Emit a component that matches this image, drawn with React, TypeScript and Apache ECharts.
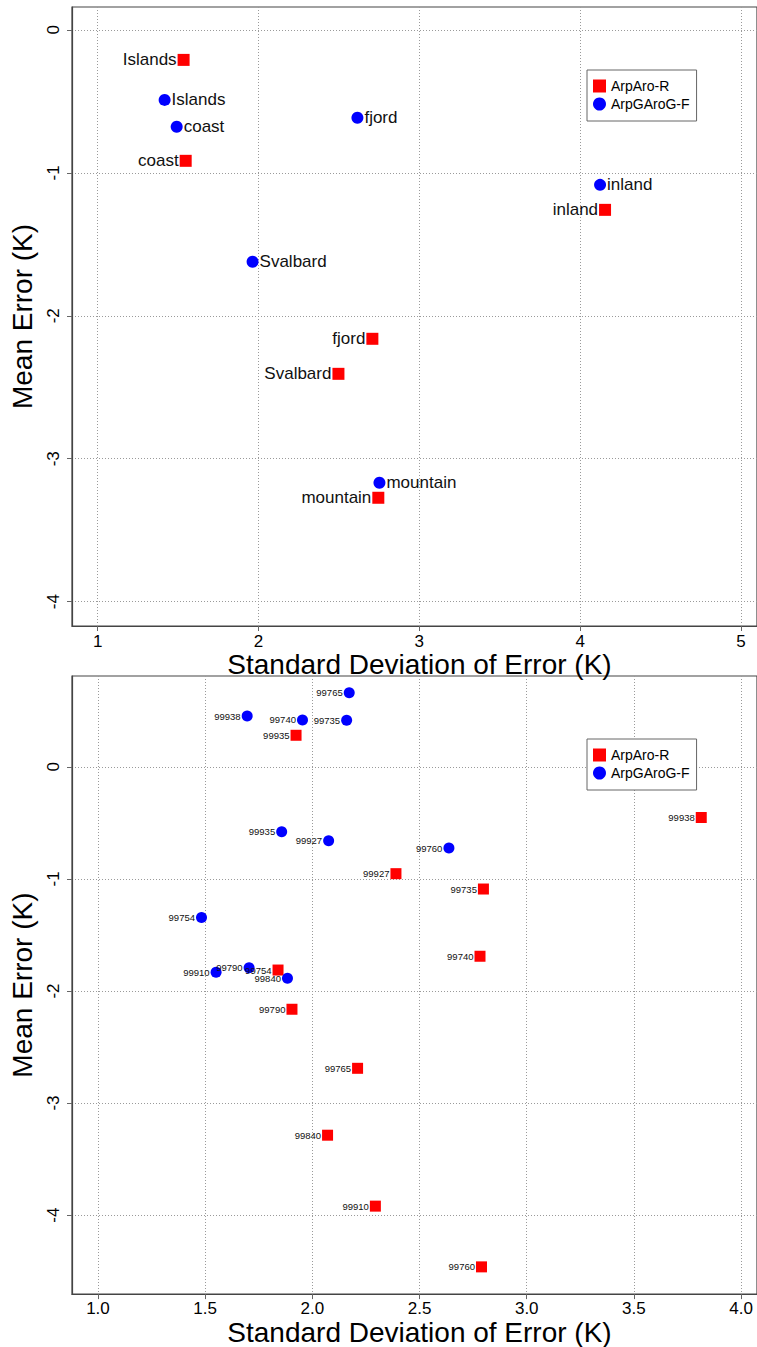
import React, { useEffect, useRef } from "react";
import * as echarts from "echarts";

// ---- Top panel: regions ----
const regionNames = ["Islands", "coast", "inland", "fjord", "Svalbard", "mountain"];
const regionRSd = [1.534, 1.547, 4.155, 2.708, 2.497, 2.745];
const regionRMean = [-0.21, -0.916, -1.259, -2.161, -2.406, -3.273];
const regionFSd = [1.416, 1.491, 4.124, 2.615, 1.963, 2.752];
const regionFMean = [-0.49, -0.678, -1.084, -0.615, -1.622, -3.168];

// ---- Bottom panel: stations ----
const stationRNames = ["99935", "99938", "99927", "99735", "99740", "99754", "99790", "99765", "99840", "99910", "99760"];
const stationRSd = [1.924, 3.814, 2.39, 2.798, 2.782, 1.84, 1.905, 2.211, 2.071, 2.294, 2.789];
const stationRMean = [0.282, -0.452, -0.953, -1.09, -1.69, -1.813, -2.163, -2.69, -3.287, -3.92, -4.462];
const stationFNames = ["99765", "99938", "99740", "99735", "99935", "99927", "99760", "99754", "99910", "99790", "99840"];
const stationFSd = [2.172, 1.696, 1.954, 2.16, 1.857, 2.076, 2.637, 1.483, 1.551, 1.705, 1.884];
const stationFMean = [0.662, 0.454, 0.419, 0.416, -0.579, -0.659, -0.724, -1.345, -1.833, -1.792, -1.887];

// ---- Ticks ----
const topXTicks = [1, 2, 3, 4, 5];
const topYTicks = [-4, -3, -2, -1, 0];
const botXTicks = [1, 1.5, 2, 2.5, 3, 3.5, 4];
const botYTicks = [-4, -3, -2, -1, 0];

const seriesNames = ["ArpAro-R", "ArpGAroG-F"];
const xTitle = "Standard Deviation of Error (K)";
const yTitle = "Mean Error (K)";

const font = '"Liberation Sans", Arial, Helvetica, sans-serif';

function App() {
  const ref = useRef<HTMLDivElement>(null);
  useEffect(() => {
    if (!ref.current) return;
    const chart = echarts.init(ref.current, undefined, { renderer: "svg" });
    const gridLine = { show: true, lineStyle: { color: "#9a9a9a", type: [1, 2], width: 1 } };
    const axisLine = { show: true, onZero: false, lineStyle: { color: "#444", width: 1.2 } };

    const mkX = (gi: number, min: number, max: number, ticks: number[], fs: number, fmt: (v: number) => string, margin: number) => ({
      type: "value",
      gridIndex: gi,
      min,
      max,
      name: xTitle,
      nameLocation: "middle",
      nameGap: 16,
      nameTextStyle: { fontSize: 28, color: "#000", fontFamily: font, padding: [0, 0, 0, 10] },
      axisLine,
      axisTick: { show: true, inside: false, length: 5, customValues: ticks, lineStyle: { color: "#666" } },
      axisLabel: { customValues: ticks, fontSize: fs, color: "#000", fontFamily: font, margin, formatter: fmt },
      splitLine: gridLine,
    });
    const mkY = (gi: number, min: number, max: number, ticks: number[], fs: number) => ({
      type: "value",
      gridIndex: gi,
      min,
      max,
      name: yTitle,
      nameLocation: "middle",
      nameRotate: 90,
      nameGap: 36,
      nameTextStyle: { fontSize: 28, color: "#000", fontFamily: font },
      axisLine,
      axisTick: { show: true, inside: false, length: 5, customValues: ticks, lineStyle: { color: "#666" } },
      axisLabel: { customValues: ticks, rotate: 90, fontSize: fs, color: "#000", fontFamily: font, margin: 10 },
      splitLine: gridLine,
    });

    const mkLegend = (top: number) => ({
      data: seriesNames,
      orient: "vertical",
      left: 587,
      top,
      padding: [9, 7, 10, 6],
      itemGap: 4,
      itemWidth: 13,
      itemHeight: 13,
      borderColor: "#666",
      borderWidth: 1,
      backgroundColor: "#fff",
      textStyle: { fontSize: 14, color: "#000", fontFamily: font },
    });

    const mkSeries = (
      name: string,
      gi: number,
      names: string[],
      xs: number[],
      ys: number[],
      symbol: string,
      size: number,
      color: string,
      pos: string,
      fs: number
    ) => ({
      name,
      type: "scatter",
      xAxisIndex: gi,
      yAxisIndex: gi,
      symbol,
      symbolSize: size,
      itemStyle: { color, opacity: 1 },
      data: names.map((n, i) => ({ name: n, value: [xs[i], ys[i]] })),
      label: { show: true, position: pos, distance: 1, formatter: "{b}", fontSize: fs, color: "#111", fontFamily: font },
      emphasis: { disabled: true },
    });

    chart.setOption({
      animation: false,
      backgroundColor: "#fff",
      textStyle: { fontFamily: font },
      grid: [
        { left: 71, top: 7, width: 686, height: 619, show: true, borderColor: "#444", borderWidth: 1.2, backgroundColor: "transparent" },
        { left: 71, top: 676, width: 686, height: 619, show: true, borderColor: "#444", borderWidth: 1.2, backgroundColor: "transparent" },
      ],
      xAxis: [
        mkX(0, 0.84, 5.1, topXTicks, 17, (v: number) => String(v), 7),
        mkX(1, 0.879, 4.074, botXTicks, 17, (v: number) => v.toFixed(1), 6),
      ],
      yAxis: [mkY(0, -4.17, 0.16, topYTicks, 17), mkY(1, -4.705, 0.811, botYTicks, 17)],
      legend: [mkLegend(70), mkLegend(739)],
      series: [
        mkSeries(seriesNames[0], 0, regionNames, regionRSd, regionRMean, "rect", 12, "#ff0000", "left", 17),
        mkSeries(seriesNames[1], 0, regionNames, regionFSd, regionFMean, "circle", 12, "#0000ff", "right", 17),
        mkSeries(seriesNames[0], 1, stationRNames, stationRSd, stationRMean, "rect", 11, "#ff0000", "left", 9.5),
        mkSeries(seriesNames[1], 1, stationFNames, stationFSd, stationFMean, "circle", 11, "#0000ff", "left", 9.5),
      ],
    });
    return () => chart.dispose();
  }, []);
  return (
    <div
      ref={ref}
      style={{ position: "absolute", left: 0, top: 0, width: 757, height: 1347, background: "#fff" }}
    />
  );
}

export default App;
